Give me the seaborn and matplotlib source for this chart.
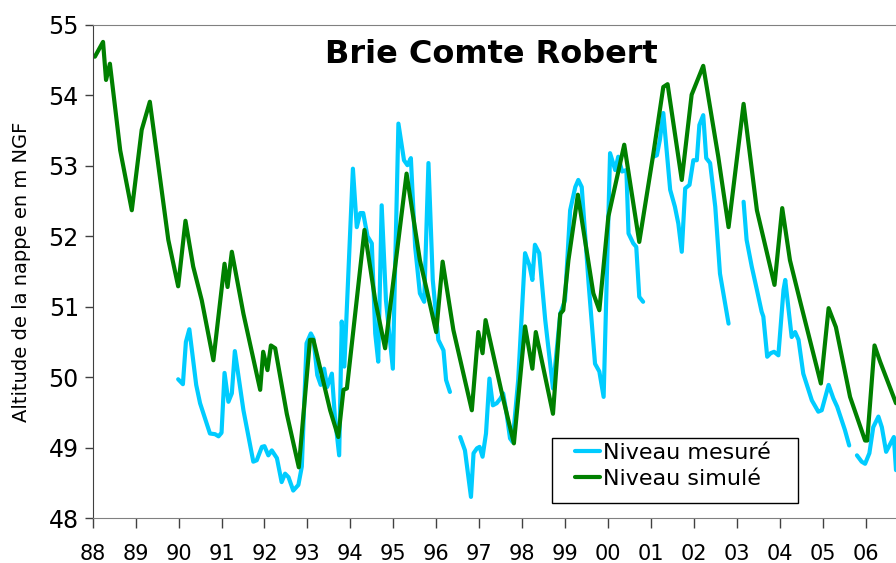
import numpy as np
import pandas as pd
import matplotlib
matplotlib.use('Agg')
import matplotlib.pyplot as plt
import seaborn as sns
from matplotlib.lines import Line2D
from matplotlib.patches import Rectangle

# niveau simulé (modèle)
sim_years = [1988.05, 1988.24, 1988.31, 1988.40, 1988.64, 1988.91, 1989.14, 1989.33,
             1989.76, 1989.99, 1990.16, 1990.34, 1990.54, 1990.81, 1991.07, 1991.14,
             1991.24, 1991.51, 1991.90, 1991.97, 1992.07, 1992.15, 1992.25, 1992.52,
             1992.80, 1993.06, 1993.14, 1993.53, 1993.72, 1993.84, 1993.92, 1994.33,
             1994.58, 1994.81, 1995.31, 1995.62, 1995.78, 1996.00, 1996.15, 1996.40,
             1996.83, 1996.98, 1997.08, 1997.15, 1997.53, 1997.81, 1998.07, 1998.24,
             1998.32, 1998.72, 1998.89, 1998.96, 1999.08, 1999.30, 1999.66, 1999.80,
             2000.01, 2000.38, 2000.73, 2001.06, 2001.29, 2001.39, 2001.72, 2001.95,
             2002.22, 2002.57, 2002.81, 2003.16, 2003.47, 2003.88, 2004.06, 2004.24,
             2004.48, 2004.96, 2005.14, 2005.31, 2005.64, 2005.99, 2006.04, 2006.21,
             2006.34, 2006.71]
sim_level = [54.55, 54.76, 54.22, 54.45, 53.22, 52.37, 53.51, 53.91,
             51.95, 51.29, 52.22, 51.57, 51.09, 50.24, 51.61, 51.28,
             51.78, 50.90, 49.82, 50.36, 50.10, 50.45, 50.41, 49.48,
             48.72, 50.53, 50.53, 49.53, 49.15, 49.82, 49.84, 52.09,
             51.09, 50.41, 52.89, 51.66, 51.24, 50.64, 51.64, 50.67,
             49.53, 50.64, 50.34, 50.81, 49.77, 49.06, 50.72, 50.12,
             50.64, 49.48, 50.90, 50.95, 51.66, 52.59, 51.19, 50.95,
             52.28, 53.30, 51.92, 53.18, 54.12, 54.16, 52.80, 54.01,
             54.42, 53.13, 52.13, 53.88, 52.37, 51.31, 52.40, 51.66,
             51.07, 49.91, 50.98, 50.71, 49.72, 49.10, 49.10, 50.45,
             50.22, 49.63]

# niveau mesuré (NaN = lacune)
nan = np.nan
mes_years = [1989.99, 1990.10, 1990.17, 1990.25, 1990.41, 1990.50, 1990.73, 1990.85,
             1990.93, 1991.00, 1991.07, 1991.16, 1991.24, 1991.31, 1991.51, 1991.74,
             1991.82, 1991.94, 1992.00, 1992.09, 1992.17, 1992.29, 1992.40, 1992.48,
             1992.56, 1992.67, 1992.79, 1992.87, 1992.98, 1993.08, 1993.14, 1993.23,
             1993.31, 1993.39, 1993.46, 1993.57, 1993.64, 1993.74, 1993.80, 1993.86,
             1994.06, 1994.15, 1994.23, 1994.30, 1994.40, 1994.50, 1994.58, 1994.65,
             1994.73, 1994.83, 1994.99, 1995.12, 1995.25, 1995.33, 1995.41, 1995.51,
             1995.62, 1995.72, 1995.82, 1995.92, 1996.05, 1996.17, 1996.23, 1996.32,
             1996.44,
             1996.56, 1996.67, 1996.81, 1996.87, 1996.95, 1997.01, 1997.08, 1997.16,
             1997.24, 1997.32, 1997.41, 1997.50, 1997.56, 1997.64, 1997.72, 1997.78,
             1997.91, 1998.07, 1998.17, 1998.24, 1998.30, 1998.40, 1998.54, 1998.72,
             1998.89, 1999.00, 1999.12, 1999.24, 1999.31, 1999.39, 1999.55, 1999.70,
             1999.80, 1999.90, 2000.05, 2000.17, 2000.24, 2000.33, 2000.43, 2000.48,
             2000.59, 2000.66, 2000.73, 2000.82,
             2000.94,
             2001.06, 2001.14, 2001.21, 2001.29, 2001.45, 2001.56, 2001.64, 2001.72,
             2001.80, 2001.90, 2001.99, 2002.07, 2002.13, 2002.22, 2002.29, 2002.38,
             2002.50, 2002.61, 2002.81,
             2003.00,
             2003.16, 2003.23, 2003.35, 2003.47, 2003.58, 2003.62, 2003.71, 2003.79,
             2003.87, 2003.97, 2004.09, 2004.13, 2004.28, 2004.36, 2004.44, 2004.55,
             2004.75, 2004.90, 2004.98, 2005.14, 2005.25, 2005.34, 2005.52, 2005.62,
             2005.71,
             2005.80, 2005.91, 2005.99, 2006.09, 2006.18, 2006.30, 2006.38, 2006.48,
             2006.66, 2006.71]
mes_level = [49.97, 49.90, 50.50, 50.68, 49.89, 49.63, 49.20, 49.19,
             49.16, 49.21, 50.06, 49.65, 49.77, 50.37, 49.53, 48.80,
             48.82, 49.01, 49.02, 48.89, 48.96, 48.85, 48.51, 48.63,
             48.58, 48.39, 48.47, 48.73, 50.48, 50.62, 50.55, 50.03,
             49.89, 50.12, 49.86, 50.05, 49.44, 48.89, 50.79, 50.15,
             52.96, 52.13, 52.33, 52.33, 52.00, 51.90, 50.62, 50.22,
             52.44, 51.09, 50.12, 53.60, 53.08, 53.01, 53.11, 51.85,
             51.19, 51.07, 53.04, 51.38, 50.53, 50.38, 49.96, 49.79,
             nan,
             49.15, 48.96, 48.30, 48.92, 48.99, 49.01, 48.87, 49.20,
             49.98, 49.60, 49.63, 49.70, 49.77, 49.48, 49.13, 49.08,
             49.96, 51.76, 51.59, 51.38, 51.88, 51.76, 50.81, 49.84,
             50.90, 51.09, 52.37, 52.70, 52.80, 52.70, 51.33, 50.19,
             50.08, 49.72, 53.18, 52.94, 53.13, 52.92, 52.94, 52.04,
             51.90, 51.85, 51.14, 51.07,
             nan,
             53.13, 53.15, 53.37, 53.75, 52.66, 52.42, 52.18, 51.78,
             52.68, 52.73, 53.08, 53.08, 53.58, 53.72, 53.11, 53.04,
             52.42, 51.47, 50.76,
             nan,
             52.49, 51.95, 51.57, 51.24, 50.93, 50.86, 50.29, 50.34,
             50.36, 50.31, 51.24, 51.38, 50.57, 50.64, 50.53, 50.05,
             49.67, 49.51, 49.53, 49.89, 49.70, 49.58, 49.25, 49.03,
             nan,
             48.89, 48.80, 48.77, 48.92, 49.29, 49.44, 49.29, 48.94,
             49.15, 48.68]

year_ticks = list(range(1988, 2007))
year_labels = [str(y)[-2:] for y in year_ticks]

mes = pd.DataFrame({'year': mes_years, 'level': mes_level})
mes['segment'] = mes['level'].isna().cumsum()
mes = mes.dropna()
sim = pd.DataFrame({'year': sim_years, 'level': sim_level})

sns.set_style('ticks')
plt.rcParams['font.family'] = ['DejaVu Sans']
plt.rcParams['text.color'] = 'black'
plt.rcParams['axes.labelcolor'] = 'black'

blue = '#00CCFF'
green = '#008000'

fig = plt.figure(figsize=(8.96, 5.63), dpi=100)
ax = fig.add_axes([0.1035, 0.0799, 0.8965, 0.8757])

sns.lineplot(data=mes, x='year', y='level', units='segment', estimator=None,
             sort=False, color=blue, lw=3, ax=ax)
sns.lineplot(data=sim, x='year', y='level', estimator=None, sort=False,
             color=green, lw=3, ax=ax)

ax.set_xlim(1988, 2006.71)
ax.set_ylim(48, 55)
ax.set_xticks(year_ticks)
ax.set_xticklabels(year_labels)
ax.set_yticks(range(48, 56))
ax.tick_params(axis='x', length=7, width=1, pad=12, labelsize=15,
               color='#404040', labelcolor='black')
ax.tick_params(axis='y', length=6, width=1, pad=4, labelsize=17,
               color='#404040', labelcolor='black')
ax.set_xlabel('')
ax.set_ylabel('Altitude de la nappe en m NGF', fontsize=14, color='black')
ax.yaxis.set_label_coords(-0.077, 0.5)

for side in ['top', 'bottom']:
    ax.spines[side].set_color('#808080')
ax.spines['left'].set_color('#404040')
ax.spines['right'].set_visible(False)

ax.text(0.496, 0.94, 'Brie Comte Robert', transform=ax.transAxes,
        ha='center', va='center', fontsize=23, fontweight='bold', color='black')

# légende
ax.add_patch(Rectangle((0.5714, 0.0298), 0.3066, 0.1325, transform=ax.transAxes,
                       facecolor='white', edgecolor='black', lw=1, zorder=4))
handles = [Line2D([], [], color=blue, lw=3), Line2D([], [], color=green, lw=3)]
leg = ax.legend(handles, ['Niveau mesuré', 'Niveau simulé'], loc='upper left',
                bbox_to_anchor=(0.6004, 0.152), fontsize=16, frameon=False,
                handlelength=1.13, handletextpad=0.14, labelspacing=0.27,
                borderpad=0, borderaxespad=0)
for t in leg.get_texts():
    t.set_color('black')
leg.set_zorder(5)

fig.savefig('out.png', dpi=100)
